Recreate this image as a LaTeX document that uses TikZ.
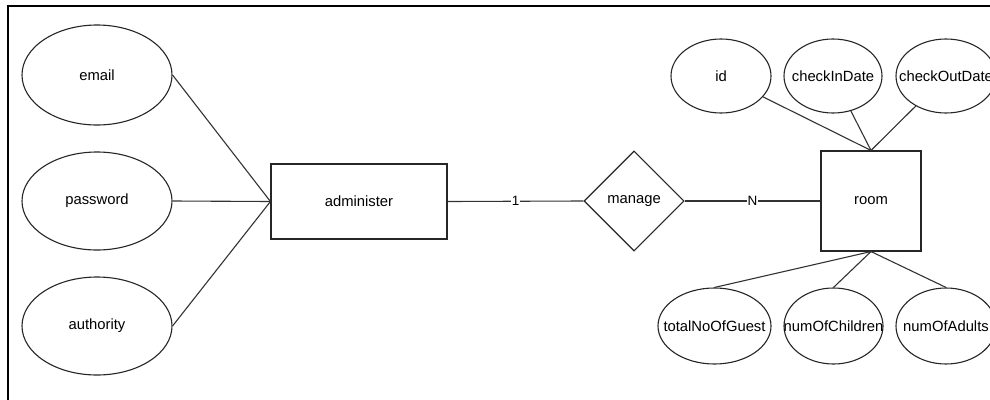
\documentclass[tikz,border=0pt]{standalone}
\usepackage{fontspec}
\setmainfont{Liberation Sans}
\usetikzlibrary{shapes.geometric}
\newcommand{\zb}[1]{\makebox[0pt]{\raisebox{-1.5pt}{#1}}}
\begin{document}
\begin{tikzpicture}[x=1pt,y=-1pt,
  attr/.style={draw=black!85,line width=1.1pt,ellipse,inner sep=0pt,font=\fontsize{14.8}{16}\selectfont},
  ent/.style={draw=black!85,line width=1.1pt,rectangle,inner sep=0pt,font=\fontsize{14.8}{16}\selectfont},
  rel/.style={draw=black!85,line width=1.1pt,diamond,inner sep=0pt,minimum width=100pt,minimum height=100pt,font=\fontsize{14.8}{16}\selectfont},
  conn/.style={draw=black!80,line width=1.1pt},
  card/.style={fill=white,inner sep=0.5pt,font=\fontsize{13.5}{14}\selectfont}]
\useasboundingbox (0,0) rectangle (990,399);
\fill[white] (0,0) rectangle (990,399);
\draw[black,line width=2.2pt] (8,420) -- (8,6) -- (1000,6);
% left attributes
\node[attr,minimum width=150pt,minimum height=100pt] (email) at (97,75) {\zb{email}};
\node[attr,minimum width=150pt,minimum height=98pt] (password) at (97,201) {\zb{password}};
\node[attr,minimum width=150pt,minimum height=98pt] (authority) at (97,326) {\zb{authority}};
\node[ent,minimum width=176pt,minimum height=75pt] (admin) at (359,201.5) {\zb{administer}};
\node[rel] (manage) at (634,201) {\zb{manage}};
\node[ent,minimum width=100pt,minimum height=100pt] (room) at (871,201) {\zb{room}};
% top attributes
\node[attr,minimum width=100pt,minimum height=74pt] (id) at (721,76) {\zb{id}};
\node[attr,minimum width=98pt,minimum height=74pt] (cin) at (833,76) {\zb{checkInDate}};
\node[attr,minimum width=100pt,minimum height=74pt] (cout) at (946,76) {\zb{checkOutDate}};
% bottom attributes
\node[attr,minimum width=113pt,minimum height=76pt] (tot) at (714.5,326) {\zb{totalNoOfGuest}};
\node[attr,minimum width=99pt,minimum height=76pt] (child) at (833.5,326) {\zb{numOfChildren}};
\node[attr,minimum width=100pt,minimum height=76pt] (adult) at (946,326) {\zb{numOfAdults}};
% connectors
\draw[conn] (email.east) -- (admin.west);
\draw[conn] (password.east) -- (admin.west);
\draw[conn] (authority.east) -- (admin.west);
\draw[conn] (admin.east) -- node[card] {1} (manage.west);
\draw[conn] (manage.east) -- node[card] {N} (room.west);
\draw[conn] (id) -- (room.north);
\draw[conn] (cin) -- (room.north);
\draw[conn] (cout) -- (room.north);
\draw[conn] (room.south) -- (tot.north);
\draw[conn] (room.south) -- (child.north);
\draw[conn] (room.south) -- (adult.north);
\end{tikzpicture}
\end{document}
